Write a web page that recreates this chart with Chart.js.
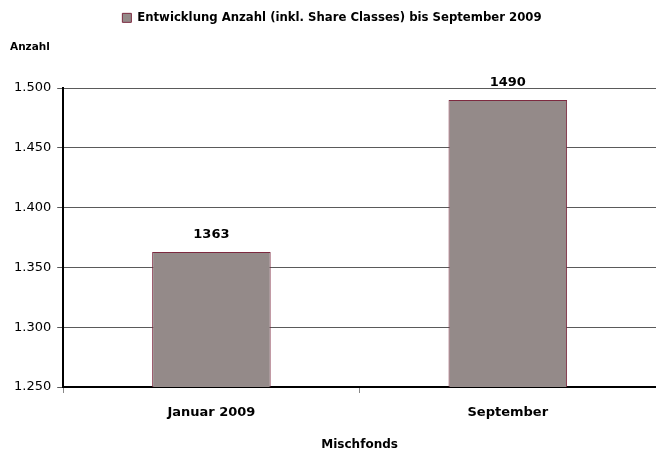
<!DOCTYPE html>
<html>
<head>
<meta charset="utf-8">
<script src="https://cdn.jsdelivr.net/npm/chart.js@4/dist/chart.umd.min.js"></script>
<style>
  body { margin: 0; background: #fff; }
  #wrap { width: 656px; height: 455px; }
</style>
</head>
<body>
<div id="wrap"><canvas id="c" width="656" height="455"></canvas></div>
<script>
// data
const categories = ['Januar 2009', 'September'];
const values = [1363, 1490];
const seriesLabel = 'Entwicklung Anzahl (inkl. Share Classes) bis September 2009';
const yMin = 1250, yMax = 1500, yStep = 50;

const FONT = "'DejaVu Sans', Verdana, sans-serif";

function fmtThousands(v) {
    return String(v).replace(/\B(?=(\d{3})+(?!\d))/g, '.');
}

// value labels above bars + "Anzahl" caption top left
const labelsPlugin = {
    id: 'barLabels',
    afterDatasetsDraw(chart) {
        const ctx = chart.ctx;
        ctx.save();
        ctx.fillStyle = '#000';
        ctx.font = 'bold 13px ' + FONT;
        ctx.textAlign = 'center';
        ctx.textBaseline = 'bottom';
        chart.getDatasetMeta(0).data.forEach((bar, i) => {
            ctx.fillText(String(values[i]), bar.x, bar.y - 11);
        });
        ctx.font = 'bold 10.5px ' + FONT;
        ctx.textAlign = 'left';
        ctx.textBaseline = 'middle';
        ctx.fillText('Anzahl', 10, 47);
        ctx.restore();
    }
};

new Chart(document.getElementById('c'), {
    type: 'bar',
    data: {
        labels: categories,
        datasets: [{
            label: seriesLabel,
            data: values,
            backgroundColor: '#948a89',
            borderColor: '#7d2a40',
            borderWidth: 1,
            barPercentage: 0.4,
            categoryPercentage: 1.0,
        }]
    },
    options: {
        responsive: false,
        animation: false,
        layout: { padding: { left: 8, right: 0, top: 2, bottom: 3 } },
        scales: {
            x: {
                grid: { drawOnChartArea: false, tickLength: 6, color: '#888' },
                border: { color: '#000', width: 2 },
                ticks: { color: '#000', font: { family: FONT, size: 13, weight: 'bold' }, padding: 12 },
                title: { display: true, text: 'Mischfonds', color: '#000', font: { family: FONT, size: 12, weight: 'bold' }, padding: { top: 5, bottom: 0 } }
            },
            y: {
                min: yMin,
                max: yMax,
                grid: { color: '#5a5a5a', lineWidth: 1, tickLength: 6 },
                border: { color: '#000', width: 2 },
                ticks: {
                    stepSize: yStep,
                    color: '#000',
                    padding: 6,
                    font: { family: FONT, size: 13 },
                    callback: v => fmtThousands(v)
                }
            }
        },
        plugins: {
            legend: {
                position: 'top',
                weight: 3000,
                labels: {
                    boxWidth: 9,
                    boxHeight: 9,
                    color: '#000',
                    padding: 10,
                    font: { family: FONT, size: 11.7, weight: 'bold' }
                }
            },
            title: { display: true, text: '', padding: { top: 18, bottom: 22 } },
            tooltip: { enabled: false }
        }
    },
    plugins: [labelsPlugin]
});
</script>
</body>
</html>
